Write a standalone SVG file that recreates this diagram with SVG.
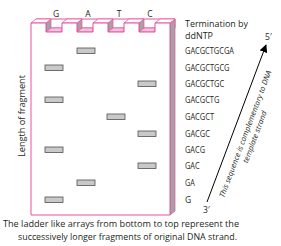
<svg xmlns="http://www.w3.org/2000/svg" width="281" height="246" viewBox="0 0 281 246">
<style>
text{font-family:"Open Sans","Liberation Sans",sans-serif;fill:#231f20}
.pk{stroke:#e8509f;stroke-width:1;stroke-linejoin:miter}
.wall{fill:#a3a3a3;stroke:#e8509f;stroke-width:0.7}
.floor{fill:#f7c3dd;stroke:#e8509f;stroke-width:0.7}
.top{fill:#ffffff;stroke:#e8509f;stroke-width:0.8}
.band{fill:#c9c9c9;stroke:#505050;stroke-width:0.8}
.seq{font-size:8.5px}
.lane{font-size:8.5px;text-anchor:middle}
.note{font-size:7.5px;font-style:italic}
.foot{font-size:9px}
</style>
<defs>
<marker id="ah" viewBox="0 0 10 10" refX="9" refY="5" markerWidth="8" markerHeight="8" markerUnits="userSpaceOnUse" orient="auto">
<path d="M0,0 L10,5 L0,10 Z" fill="#000"/>
</marker>
</defs>
<rect width="281" height="246" fill="#fff"/>

<g id="gel">
  <path class="pk" fill="#fff" d="M36,19 H175 V28 H36 Z" stroke-width="0.8"/>
  <polygon points="170,23 175,19 175,211 170,215" fill="#a3a3a3" stroke="#e8509f" stroke-width="0.7"/>
  <polygon class="wall" points="46,23 51,19 51,28 46,32"/>
  <polygon class="wall" points="77,23 82,19 82,28 77,32"/>
  <polygon class="wall" points="108,23 113,19 113,28 108,32"/>
  <polygon class="wall" points="139,23 144,19 144,28 139,32"/>
  <polygon class="floor" points="46,32 51,28 62,28 62,32"/>
  <polygon class="floor" points="77,32 82,28 93,28 93,32"/>
  <polygon class="floor" points="108,32 113,28 124,28 124,32"/>
  <polygon class="floor" points="139,32 144,28 155,28 155,32"/>
  <polygon class="top" points="31,23 36,19 51,19 46,23"/>
  <polygon class="top" points="62,23 67,19 82,19 77,23"/>
  <polygon class="top" points="93,23 98,19 113,19 108,23"/>
  <polygon class="top" points="124,23 129,19 144,19 139,23"/>
  <polygon class="top" points="155,23 160,19 175,19 170,23"/>
  <path class="pk" fill="#fff" d="M31,215 V23 H46 V32 H62 V23 H77 V32 H93 V23 H108 V32 H124 V23 H139 V32 H155 V23 H170 V215 Z"/>
  <text class="lane" x="56" y="17">G</text>
  <text class="lane" x="88" y="17">A</text>
  <text class="lane" x="119" y="17">T</text>
  <text class="lane" x="150" y="17">C</text>
</g>

<g id="bands">
  <rect id="b10" class="band" x="77" y="48" width="18" height="5.5"/>
  <rect id="b9" class="band" x="45" y="65" width="18" height="5.5"/>
  <rect id="b8" class="band" x="138" y="81" width="18" height="5.5"/>
  <rect id="b7" class="band" x="45" y="97" width="18" height="5.5"/>
  <rect id="b6" class="band" x="107" y="114" width="18" height="5.5"/>
  <rect id="b5" class="band" x="138" y="131" width="18" height="5.5"/>
  <rect id="b4" class="band" x="45" y="147" width="18" height="5.5"/>
  <rect id="b3" class="band" x="138" y="163" width="18" height="5.5"/>
  <rect id="b2" class="band" x="77" y="180" width="18" height="5.5"/>
  <rect id="b1" class="band" x="45" y="197" width="18" height="5.5"/>
</g>

<g id="axis-label">
  <text x="0" y="0" font-size="9.5" transform="translate(25,116) rotate(-90)" text-anchor="middle" textLength="82" lengthAdjust="spacingAndGlyphs">Length of fragment</text>
</g>

<g id="sequences">
  <text x="185" y="27" font-size="9" textLength="63" lengthAdjust="spacingAndGlyphs">Termination by</text>
  <text x="185" y="39" font-size="9" textLength="28" lengthAdjust="spacingAndGlyphs">ddNTP</text>
  <text class="seq" x="185" y="54" textLength="49" lengthAdjust="spacingAndGlyphs">GACGCTGCGA</text>
  <text class="seq" x="185" y="71" textLength="44.5" lengthAdjust="spacingAndGlyphs">GACGCTGCG</text>
  <text class="seq" x="185" y="87" textLength="39.2" lengthAdjust="spacingAndGlyphs">GACGCTGC</text>
  <text class="seq" x="185" y="103" textLength="34.3" lengthAdjust="spacingAndGlyphs">GACGCTG</text>
  <text class="seq" x="185" y="120" textLength="29" lengthAdjust="spacingAndGlyphs">GACGCT</text>
  <text class="seq" x="185" y="137" textLength="24.9" lengthAdjust="spacingAndGlyphs">GACGC</text>
  <text class="seq" x="185" y="153" textLength="20" lengthAdjust="spacingAndGlyphs">GACG</text>
  <text class="seq" x="185" y="169" textLength="14.7" lengthAdjust="spacingAndGlyphs">GAC</text>
  <text class="seq" x="185" y="186" textLength="9.8" lengthAdjust="spacingAndGlyphs">GA</text>
  <text class="seq" x="185" y="203">G</text>
</g>

<g id="connectors">
  <line x1="207" y1="202" x2="266" y2="45" stroke="#000" stroke-width="1" marker-end="url(#ah)"/>
</g>

<g id="strand-labels">
  <text x="265" y="40" font-size="8.5">5′</text>
  <text x="203" y="213" font-size="8.5">3′</text>
  <g transform="translate(224,198) rotate(-69.4)">
    <text class="note" x="0" y="0" textLength="135" lengthAdjust="spacingAndGlyphs">This sequence is complementary to DNA</text>
    <text class="note" x="68" y="10" text-anchor="middle" textLength="55" lengthAdjust="spacingAndGlyphs">template strand</text>
  </g>
</g>

<g id="caption">
  <text class="foot" x="3" y="227" textLength="236" lengthAdjust="spacingAndGlyphs">The ladder like arrays from bottom to top represent the</text>
  <text class="foot" x="18" y="240" textLength="219" lengthAdjust="spacingAndGlyphs">successively longer fragments of original DNA strand.</text>
</g>
</svg>
